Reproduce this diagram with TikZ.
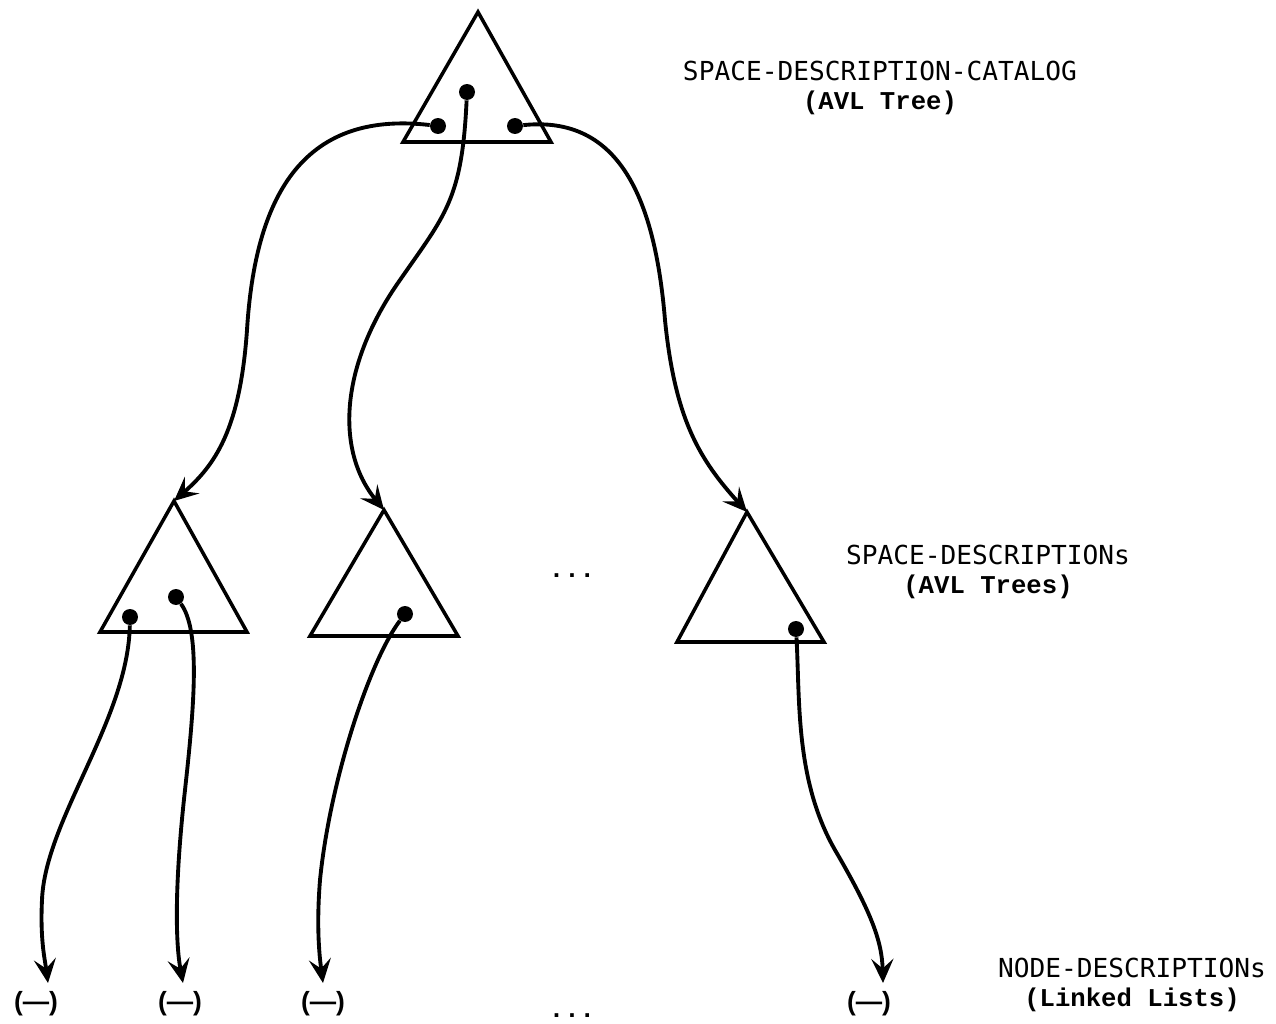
\documentclass[tikz,border=0pt]{standalone}
\usepackage{fontspec}
\usepackage{tikz}
\usetikzlibrary{arrows.meta}
\newfontfamily\capsfont{DejaVu Sans Mono}
\newfontfamily\typefont{Liberation Mono}
\newfontfamily\nilfont{Liberation Sans}
\newcommand{\lblcaps}[1]{{\capsfont\fontsize{14.9}{16.5}\selectfont #1}}
\newcommand{\lbltype}[1]{{\typefont\bfseries\fontsize{14.6}{16.5}\selectfont #1}}

\begin{document}
\begin{tikzpicture}[
  x=0.02cm, y=-0.02cm,
  tree/.style={line width=2pt,line join=miter},
  dot/.style={circle,fill,inner sep=0pt,minimum size=3.2mm},
  ptr/.style={-{Stealth[length=4.8mm,width=4.4mm,inset=1.9mm]},line width=2.2pt},
  lbl/.style={align=center,inner sep=0pt,font=\fontsize{14.9}{16.5}\selectfont},
  nil/.style={inner sep=0pt,font=\nilfont\bfseries\fontsize{15}{16.5}\selectfont},
  gap/.style={inner sep=0pt,font=\typefont\bfseries\fontsize{14.6}{16.5}\selectfont}
]
\useasboundingbox (0,0) rectangle (1276,1024);
% catalog tree
\coordinate (t1) at (478,12);
\draw[tree] (t1) -- (551,142) -- (403,142) -- cycle;
\node[dot] (d1) at (438,126) {};
\node[dot] (d2) at (467,92) {};
\node[dot] (d3) at (515,126) {};
% space-description trees
\coordinate (t2) at (174,501);
\draw[tree] (t2) -- (247,632) -- (100,632) -- cycle;
\coordinate (t3) at (384,510);
\draw[tree] (t3) -- (458,636) -- (310,636) -- cycle;
\coordinate (t4) at (747,512);
\draw[tree] (t4) -- (824,642) -- (677,642) -- cycle;
\node[dot] (d4) at (130,617) {};
\node[dot] (d5) at (176,597) {};
\node[dot] (d6) at (405,614) {};
\node[dot] (d7) at (796,629) {};
\node[gap,anchor=base] (gap1) at (572,577) {...};
% node-description lists
\node[nil] (l1) at (36,1004) {(—)};
\node[nil] (l2) at (180,1004) {(—)};
\node[nil] (l3) at (323,1004) {(—)};
\node[nil] (l4) at (869,1004) {(—)};
\node[gap,anchor=base] (gap2) at (572,1017) {...};
\coordinate (e1) at (48,983);
\coordinate (e2) at (183,983);
\coordinate (e3) at (323,983);
\coordinate (e4) at (883,983);
% pointers
\draw[ptr] (d1) .. controls (300,110) and (255,200) .. (247,330)
  .. controls (240,430) and (215,465) .. (t2);
\draw[ptr] (d2) .. controls (462,200) and (445,215) .. (400,280)
  .. controls (340,365) and (335,450) .. (t3);
\draw[ptr] (d3) .. controls (620,115) and (655,200) .. (665,320)
  .. controls (675,420) and (700,460) .. (t4);
\draw[ptr] (d4) .. controls (128,720) and (45,820) .. (42,900)
  .. controls (40,940) and (45,960) .. (e1);
\draw[ptr] (d5) .. controls (200,630) and (195,700) .. (185,790)
  .. controls (175,880) and (175,940) .. (e2);
\draw[ptr] (d6) .. controls (370,660) and (330,780) .. (320,880)
  .. controls (316,930) and (320,960) .. (e3);
\draw[ptr] (d7) .. controls (800,700) and (795,780) .. (835,850)
  .. controls (870,910) and (882,940) .. (e4);
% labels
\node[lbl] (catlbl) at (880,88) {\lblcaps{SPACE-DESCRIPTION-CATALOG}\\\lbltype{(AVL Tree)}};
\node[lbl] (spclbl) at (988,572) {\lblcaps{SPACE-DESCRIPTIONs}\\\lbltype{(AVL Trees)}};
\node[lbl] (nodlbl) at (1132,985) {\lblcaps{NODE-DESCRIPTIONs}\\\lbltype{(Linked Lists)}};
\end{tikzpicture}
\end{document}
